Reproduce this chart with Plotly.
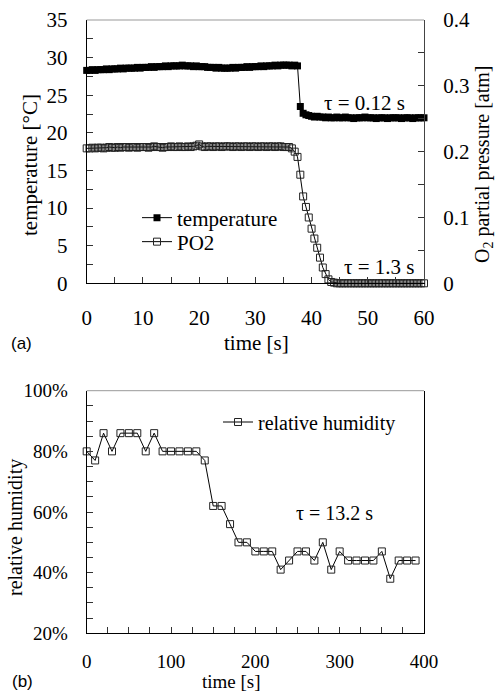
import plotly.graph_objects as go

# ---------------- data ----------------
time_a = [i * 0.5 for i in range(121)]  # 0 .. 60 s, 0.5 s step

temperature = [
    28.3, 28.3, 28.4, 28.3, 28.4, 28.4, 28.4, 28.5, 28.4, 28.5,
    28.5, 28.5, 28.6, 28.5, 28.6, 28.6, 28.6, 28.6, 28.7, 28.6,
    28.7, 28.7, 28.7, 28.8, 28.7, 28.8, 28.8, 28.8, 28.9, 28.8,
    28.9, 28.9, 28.9, 28.9, 29.0, 28.9, 28.9, 28.9, 28.8, 28.9,
    28.8, 28.8, 28.8, 28.7, 28.7, 28.7, 28.6, 28.7, 28.6, 28.6,
    28.6, 28.6, 28.7, 28.6, 28.7, 28.7, 28.7, 28.8, 28.7, 28.8,
    28.8, 28.8, 28.9, 28.8, 28.9, 28.9, 28.9, 29.0, 28.9, 29.0,
    29.0, 29.0, 29.0, 28.9, 29.0, 28.9,
    23.5,
    22.6, 22.4, 22.3, 22.2, 22.1, 22.2, 22.1, 22.1, 22.0, 22.1,
    22.0, 22.0, 22.1, 22.0, 22.0, 22.1, 22.0, 22.0, 21.9, 22.0,
    22.0, 22.0, 22.1, 22.0, 22.0, 22.0, 21.9, 22.0, 22.0, 22.0,
    21.9, 22.0, 22.0, 22.0, 22.0, 21.9, 22.0, 22.0, 22.0, 21.9,
    22.0, 22.0, 22.0, 22.0,
]

po2 = [
    0.205, 0.205, 0.206, 0.205, 0.206, 0.206, 0.205, 0.206, 0.207, 0.206,
    0.206, 0.207, 0.206, 0.207, 0.207, 0.206, 0.207, 0.207, 0.206, 0.207,
    0.207, 0.207, 0.206, 0.207, 0.208, 0.207, 0.207, 0.206, 0.207, 0.207,
    0.208, 0.207, 0.207, 0.208, 0.207, 0.207, 0.208, 0.207, 0.208, 0.209,
    0.211, 0.208, 0.207, 0.208, 0.208, 0.207, 0.208, 0.208, 0.207, 0.208,
    0.208, 0.208, 0.207, 0.208, 0.208, 0.207, 0.208, 0.208, 0.207, 0.208,
    0.208, 0.207, 0.208, 0.208, 0.207, 0.208, 0.208, 0.207, 0.208, 0.208,
    0.207, 0.207,
    0.207, 0.205, 0.200, 0.192, 0.165, 0.132, 0.116, 0.100, 0.083, 0.068,
    0.054, 0.039, 0.024, 0.014, 0.006, 0.002, 0.001,
    0, 0, 0, 0, 0, 0, 0, 0, 0, 0,
    0, 0, 0, 0, 0, 0, 0, 0, 0, 0,
    0, 0, 0, 0, 0, 0, 0, 0, 0, 0,
    0, 0,
]

time_b = [0, 10, 20, 30, 40, 50, 60, 70, 80, 90,
          100, 110, 120, 130, 140, 150, 160, 170, 180, 190,
          200, 210, 220, 230, 240, 250, 260, 270, 280, 290,
          300, 310, 320, 330, 340, 350, 360, 370, 380, 390]
humidity = [0.80, 0.77, 0.86, 0.80, 0.86, 0.86, 0.86, 0.80, 0.86, 0.80,
            0.80, 0.80, 0.80, 0.80, 0.77, 0.62, 0.62, 0.56, 0.50, 0.50,
            0.47, 0.47, 0.47, 0.41, 0.44, 0.47, 0.47, 0.44, 0.50, 0.41,
            0.47, 0.44, 0.44, 0.44, 0.44, 0.47, 0.38, 0.44, 0.44, 0.44]

# ---------------- layout helpers ----------------
W, H = 495, 693


def px(x):
    return x / W


def py(y):
    return 1 - y / H


X0, X1 = 86.7, 424.0
TA_TOP, TA_BOT = 20.0, 283.3
TB_TOP, TB_BOT = 390.7, 633.3

SERIF = "Liberation Serif"
SANS = "Liberation Sans"

fig = go.Figure()
fig.add_trace(go.Scatter(
    x=time_a, y=temperature, name="temperature", mode="lines+markers",
    marker=dict(symbol="square", size=7, color="black"),
    line=dict(color="black", width=1), cliponaxis=False,
    xaxis="x", yaxis="y", legend="legend"))
fig.add_trace(go.Scatter(
    x=time_a, y=po2, name="PO2", mode="lines+markers",
    marker=dict(symbol="square-open", size=7, color="#222",
                line=dict(width=1, color="#222")),
    line=dict(color="black", width=1), cliponaxis=False,
    xaxis="x", yaxis="y2", legend="legend2"))
fig.add_trace(go.Scatter(
    x=time_b, y=humidity, name="relative humidity", mode="lines+markers",
    marker=dict(symbol="square-open", size=7, color="#222",
                line=dict(width=1, color="#222")),
    line=dict(color="black", width=1), cliponaxis=False,
    xaxis="x3", yaxis="y3", legend="legend3"))

common = dict(showgrid=False, zeroline=False, showline=True, linecolor="black",
              linewidth=1, ticks="inside", ticklen=6, tickcolor="#333",
              tickwidth=1, automargin=False)

legend_common = dict(xanchor="left", yanchor="middle", bgcolor="rgba(0,0,0,0)",
                     tracegroupgap=0, itemwidth=30, borderwidth=0)

fig.update_layout(
    width=W, height=H,
    margin=dict(l=0, r=0, t=0, b=0),
    paper_bgcolor="white", plot_bgcolor="white",
    font=dict(family=SERIF, size=21, color="black"),
    showlegend=True,
    xaxis=dict(domain=[px(X0), px(X1)], anchor="y", range=[0, 60],
               tick0=0, dtick=10, ticklabelstandoff=15,
               minor=dict(dtick=5, ticks="inside", ticklen=6, tickcolor="#333"),
               tickfont=dict(size=21), **common),
    yaxis=dict(domain=[py(TA_BOT), py(TA_TOP)], anchor="x", range=[0, 35],
               tick0=0, dtick=5, ticklabelstandoff=14,
               minor=dict(dtick=2.5, ticks="inside", ticklen=6, tickcolor="#333"),
               tickfont=dict(size=21), **common),
    yaxis2=dict(overlaying="y", side="right", anchor="x", range=[0, 0.4],
                tick0=0, dtick=0.1, ticklabelstandoff=14,
                minor=dict(dtick=0.05, ticks="inside", ticklen=6, tickcolor="#333"),
                tickfont=dict(size=21), **{**common, "linecolor": "#444"}),
    xaxis3=dict(domain=[px(X0), px(X1)], anchor="y3", range=[0, 400],
                tick0=0, dtick=100, ticklabelstandoff=11,
                minor=dict(dtick=25, ticks="inside", ticklen=6, tickcolor="#333"),
                tickfont=dict(size=19), **common),
    yaxis3=dict(domain=[py(TB_BOT), py(TB_TOP)], anchor="x3", range=[0.2, 1.0],
                tick0=0.2, dtick=0.2, tickformat=".0%", ticklabelstandoff=14,
                mirror=True,
                minor=dict(dtick=0.05, ticks="inside", ticklen=6, tickcolor="#333"),
                tickfont=dict(size=19), **common),
    legend=dict(x=px(137), y=py(218), font=dict(size=21), **legend_common),
    legend2=dict(x=px(137), y=py(242), font=dict(size=21), **legend_common),
    legend3=dict(x=px(218), y=py(422), font=dict(size=20), **legend_common),
    shapes=[
        dict(type="line", xref="paper", yref="paper", x0=px(X0), x1=px(X1),
             y0=py(TA_TOP), y1=py(TA_TOP), line=dict(color="#999", width=1)),
        dict(type="line", xref="paper", yref="paper", x0=px(X0), x1=px(X1),
             y0=py(TB_TOP), y1=py(TB_TOP), line=dict(color="#999", width=1)),
    ],
)


def ann(text, x, y, size, family=SERIF, angle=0):
    fig.add_annotation(text=text, x=px(x), y=py(y), xref="paper", yref="paper",
                       xanchor="center", yanchor="middle", showarrow=False,
                       textangle=angle, font=dict(family=family, size=size, color="black"))


ann("τ = 0.12 s", 364, 103, 21)
ann("τ = 1.3 s", 379, 267, 21)
ann("τ = 13.2 s", 334, 513, 20)
ann("time [s]", 256, 343, 21)
ann("time [s]", 231, 681, 19)
ann("temperature [°C]", 30, 165, 21, angle=-90)
ann("O<sub>2</sub> partial pressure [atm]", 483, 164, 20, angle=-90)
ann("relative humidity", 15, 528, 20, angle=-90)
ann("(a)", 21, 343, 17, family=SANS)
ann("(b)", 22, 681, 17, family=SANS)

fig.write_html("out.html")
